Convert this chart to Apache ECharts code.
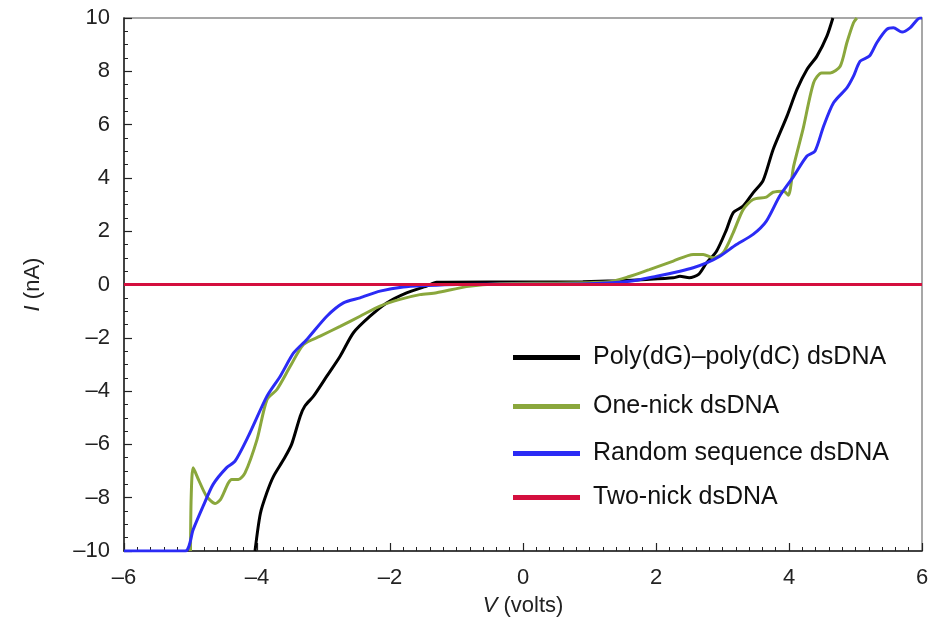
<!DOCTYPE html>
<html>
<head>
<meta charset="utf-8">
<script src="https://cdn.jsdelivr.net/npm/echarts@6/dist/echarts.min.js"></script>
<style>
  html, body { margin: 0; padding: 0; background: #fff; }
  #chart { width: 933px; height: 631px; }
</style>
</head>
<body>
<div id="chart"></div>
<script>
// Current–voltage sweeps of four dsDNA samples
const seriesNames = [
  'Poly(dG)\u2013poly(dC) dsDNA',
  'One-nick dsDNA',
  'Random sequence dsDNA',
  'Two-nick dsDNA'
];

const polyV = [-4.03, -3.95, -3.85, -3.75, -3.6, -3.48, -3.35, -3.28, -3.15, -2.95, -2.75, -2.55, -2.3, -2.05, -1.75, -1.45, -1.3, -0.5, 0.5, 0.9, 1.4, 1.86, 2.26, 2.36, 2.5, 2.64, 2.76, 2.91, 3.06, 3.16, 3.31, 3.46, 3.61, 3.76, 3.97, 4.12, 4.27, 4.42, 4.57, 4.66];
const polyI = [-10, -8.6, -7.8, -7.19, -6.57, -6.0, -4.94, -4.56, -4.19, -3.44, -2.69, -1.81, -1.19, -0.69, -0.31, -0.06, 0.08, 0.09, 0.09, 0.1, 0.14, 0.19, 0.25, 0.31, 0.25, 0.38, 0.81, 1.25, 2.06, 2.69, 2.94, 3.44, 3.9, 5.06, 6.32, 7.32, 8.07, 8.57, 9.32, 10];

const oneNickV = [-5.0, -4.99, -4.96, -4.88, -4.76, -4.63, -4.55, -4.38, -4.28, -4.18, -4.0, -3.85, -3.7, -3.5, -3.3, -3.05, -2.75, -2.45, -2.15, -1.85, -1.55, -1.3, -0.85, -0.35, 0.5, 1.3, 1.6, 1.9, 2.26, 2.56, 2.71, 2.86, 3.01, 3.16, 3.31, 3.46, 3.66, 3.76, 3.92, 3.99, 4.07, 4.21, 4.37, 4.49, 4.62, 4.77, 4.87, 4.97, 5.02];
const oneNickI = [-10, -8, -6.88, -7.32, -7.94, -8.22, -8.07, -7.32, -7.32, -7.07, -5.82, -4.32, -3.94, -3.07, -2.25, -1.94, -1.57, -1.19, -0.81, -0.56, -0.38, -0.31, -0.08, 0.03, 0.05, 0.1, 0.3, 0.56, 0.88, 1.13, 1.13, 1.0, 1.19, 1.94, 2.81, 3.19, 3.28, 3.46, 3.5, 3.35, 4.44, 5.82, 7.57, 7.94, 7.94, 8.19, 9.07, 9.82, 10];

const randomV = [-6, -5.08, -4.96, -4.81, -4.66, -4.46, -4.33, -4.13, -3.85, -3.65, -3.45, -3.25, -2.95, -2.7, -2.45, -2.15, -1.8, -1.45, -1.0, 0, 1.0, 1.61, 2.01, 2.36, 2.56, 2.76, 2.96, 3.21, 3.46, 3.66, 3.86, 4.07, 4.27, 4.39, 4.52, 4.67, 4.87, 4.97, 5.07, 5.21, 5.32, 5.47, 5.57, 5.7, 5.82, 5.97, 6];
const randomI = [-10, -10, -9.2, -8.32, -7.5, -6.88, -6.63, -5.69, -4.19, -3.44, -2.57, -2.06, -1.19, -0.69, -0.5, -0.25, -0.09, -0.04, 0, 0.01, 0.03, 0.12, 0.31, 0.5, 0.63, 0.81, 1.06, 1.5, 1.88, 2.38, 3.32, 4.06, 4.82, 5.0, 5.94, 6.82, 7.38, 7.82, 8.38, 8.57, 9.07, 9.57, 9.63, 9.47, 9.63, 10, 10];

const twoNickV = [-6, 6];
const twoNickI = [0, 0];

const xTicks = [-6, -4, -2, 0, 2, 4, 6];
const yTicks = [-10, -8, -6, -4, -2, 0, 2, 4, 6, 8, 10];

const colors = ['#000000', '#8aa73c', '#2b2bf5', '#d40f3e'];

function pairs(v, i) { return v.map((x, k) => [x, i[k]]); }
const dash = (v) => String(v).replace('-', '\u2013');

const FONT = '"Liberation Sans", Arial, Helvetica, sans-serif';
const TICK_SIZE = 22;
const TITLE_SIZE = 22;
const LEGEND_SIZE = 25;

const chart = echarts.init(document.getElementById('chart'), null, { renderer: 'canvas' });

const legendTops = [340, 389, 436, 480];
const legends = seriesNames.map((n, k) => ({
  data: [n],
  left: 508,
  top: legendTops[k],
  orient: 'vertical',
  icon: 'rect',
  itemWidth: 67,
  itemHeight: 5,
  selectedMode: false,
  textStyle: { fontFamily: FONT, fontSize: LEGEND_SIZE, color: '#111', padding: [0, 0, 0, 8] }
}));

const titleStyle = {
  fontFamily: FONT, fontSize: TITLE_SIZE, color: '#222',
  rich: { i: { fontStyle: 'italic', fontFamily: FONT, fontSize: TITLE_SIZE, color: '#222' } }
};

chart.setOption({
  backgroundColor: '#ffffff',
  animation: false,
  color: colors,
  legend: legends,
  grid: {
    left: 124, right: 11, top: 18, bottom: 80,
    show: true, borderColor: '#8a8a8a', borderWidth: 1.5,
    containLabel: false
  },
  xAxis: {
    type: 'value',
    min: -6, max: 6, interval: 2,
    name: '{i|V} (volts)',
    nameLocation: 'middle',
    nameGap: 44,
    nameTextStyle: titleStyle,
    axisLine: { show: true, onZero: false, lineStyle: { color: '#222', width: 1.5 } },
    axisTick: { show: true, inside: true, length: 8, lineStyle: { color: '#222', width: 1.2 } },
    minorTick: { show: true, splitNumber: 10, length: 4, lineStyle: { color: '#222', width: 1 } },
    splitLine: { show: false },
    axisLabel: {
      margin: 16, fontFamily: FONT, fontSize: TICK_SIZE, color: '#222',
      formatter: (v) => xTicks.includes(v) ? dash(v) : ''
    }
  },
  yAxis: {
    type: 'value',
    min: -10, max: 10, interval: 2,
    name: '{i|I} (nA)',
    nameLocation: 'middle',
    nameRotate: 90,
    nameGap: 80,
    nameTextStyle: titleStyle,
    axisLine: { show: true, onZero: false, lineStyle: { color: '#222', width: 1.5 } },
    axisTick: { show: true, inside: true, length: 8, lineStyle: { color: '#222', width: 1.2 } },
    minorTick: { show: true, splitNumber: 4, length: 4, lineStyle: { color: '#222', width: 1 } },
    splitLine: { show: false },
    axisLabel: {
      margin: 14, fontFamily: FONT, fontSize: TICK_SIZE, color: '#222',
      formatter: (v) => yTicks.includes(v) ? dash(v) : ''
    }
  },
  series: [
    { name: seriesNames[0], data: pairs(polyV, polyI) },
    { name: seriesNames[1], data: pairs(oneNickV, oneNickI) },
    { name: seriesNames[2], data: pairs(randomV, randomI) },
    { name: seriesNames[3], data: pairs(twoNickV, twoNickI) }
  ].map((s, k) => ({
    type: 'line',
    name: s.name,
    data: s.data,
    showSymbol: false,
    symbol: 'none',
    smooth: 0.25,
    clip: true,
    lineStyle: { width: 3, color: colors[k] },
    z: 2 + k
  }))
});
</script>
</body>
</html>
